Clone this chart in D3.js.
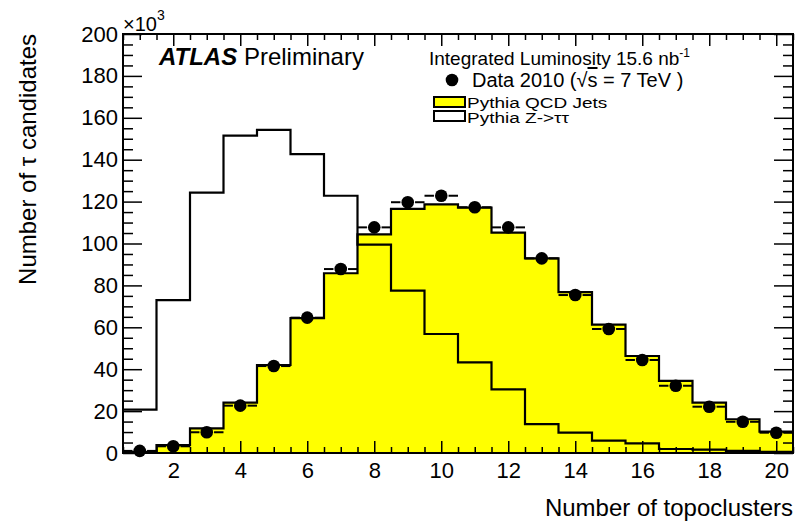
<!DOCTYPE html>
<html>
<head>
<meta charset="utf-8">
<script src="https://cdn.jsdelivr.net/npm/d3@7"></script>
<style>
  body { margin: 0; background: #fff; }
  svg text { font-family: "Liberation Sans", Arial, Helvetica, sans-serif; fill: #000; }
</style>
</head>
<body>
<div id="chart"></div>
<script>
// number of topoclusters (bin centres)
const bins = [1, 2, 3, 4, 5, 6, 7, 8, 9, 10, 11, 12, 13, 14, 15, 16, 17, 18, 19, 20];
// values in units of 10^3
const qcdJets = [0.5, 3.8, 11.8, 24.0, 42.0, 64.4, 85.8, 104.4, 116.5, 118.7, 117.1, 105.2, 92.9, 76.8, 61.3, 46.3, 34.4, 24.0, 16.1, 10.2];
const zTauTau = [20.7, 73.0, 124.3, 151.5, 154.2, 142.7, 122.8, 99.5, 77.5, 56.8, 43.3, 30.4, 13.8, 9.7, 5.9, 4.6, 1.9, 1.6, 1.0, 0.5];
const data2010 = [1.0, 3.2, 9.9, 22.6, 41.5, 64.6, 87.8, 107.7, 119.7, 122.8, 117.3, 107.7, 92.9, 75.4, 59.2, 44.4, 32.1, 22.1, 14.9, 9.7];

const xMajor = [2, 4, 6, 8, 10, 12, 14, 16, 18, 20];
const yMajor = [0, 20, 40, 60, 80, 100, 120, 140, 160, 180, 200];

const width = 804, height = 526;
const frame = {left: 123, right: 793, top: 34, bottom: 453};

const svg = d3.select('#chart').append('svg')
    .attr('width', width)
    .attr('height', height);

const x = d3.scaleLinear().domain([0.5, 20.5]).range([frame.left, frame.right]);
const y = d3.scaleLinear().domain([0, 200]).range([frame.bottom, frame.top]);

// step points: left edge of every bin, plus the right edge of the last one
function stepPoints(values) {
    const pts = bins.map((b, i) => [b - 0.5, values[i]]);
    pts.push([bins[bins.length - 1] + 0.5, values[values.length - 1]]);
    return pts;
}

const line = d3.line().x(d => x(d[0])).y(d => y(d[1])).curve(d3.curveStepAfter);
const area = d3.area().x(d => x(d[0])).y0(y(0)).y1(d => y(d[1])).curve(d3.curveStepAfter);

// QCD jets, filled
svg.append('path')
    .attr('d', area(stepPoints(qcdJets)))
    .attr('fill', '#ffff00');
svg.append('path')
    .attr('d', line(stepPoints(qcdJets)))
    .attr('fill', 'none')
    .attr('stroke', '#000')
    .attr('stroke-width', 2.2);

// Z->tautau, open
svg.append('path')
    .attr('d', line(stepPoints(zTauTau)))
    .attr('fill', 'none')
    .attr('stroke', '#000')
    .attr('stroke-width', 2.2);

// data points with horizontal bin-width bars
const r = 6.3;
const pts = svg.append('g');
bins.forEach((b, i) => {
    const cx = x(b), cy = y(data2010[i]);
    pts.append('line')
        .attr('x1', x(b - 0.5)).attr('x2', cx - r - 1)
        .attr('y1', cy).attr('y2', cy)
        .attr('stroke', '#000').attr('stroke-width', 2);
    pts.append('line')
        .attr('x1', cx + r + 1).attr('x2', x(b + 0.5))
        .attr('y1', cy).attr('y2', cy)
        .attr('stroke', '#000').attr('stroke-width', 2);
    pts.append('circle')
        .attr('cx', cx).attr('cy', cy).attr('r', r)
        .attr('fill', '#000');
});

// axes (ROOT style ticks inside the frame, on all four sides)
const xMinor = d3.range(0.5, 20.51, 0.5).filter(v => xMajor.indexOf(v) < 0);
const yMinor = d3.range(0, 200.1, 5).filter(v => yMajor.indexOf(v) < 0);

function styleAxis(g) {
    g.select('.domain').remove();
    g.selectAll('line').attr('stroke', '#000').attr('stroke-width', 1.5);
}

svg.append('g')
    .attr('transform', `translate(0,${frame.bottom})`)
    .call(d3.axisBottom(x).tickValues(xMajor).tickSize(-12).tickPadding(9).tickFormat(d3.format('d')))
    .call(styleAxis)
    .call(g => g.selectAll('text').attr('font-size', 22).style('font-family', '"Liberation Sans", Arial, sans-serif'));
svg.append('g')
    .attr('transform', `translate(0,${frame.bottom})`)
    .call(d3.axisBottom(x).tickValues(xMinor).tickSize(-6).tickFormat(''))
    .call(styleAxis);
svg.append('g')
    .attr('transform', `translate(0,${frame.top})`)
    .call(d3.axisTop(x).tickValues(xMajor).tickSize(-12).tickFormat(''))
    .call(styleAxis);
svg.append('g')
    .attr('transform', `translate(0,${frame.top})`)
    .call(d3.axisTop(x).tickValues(xMinor).tickSize(-6).tickFormat(''))
    .call(styleAxis);

svg.append('g')
    .attr('transform', `translate(${frame.left},0)`)
    .call(d3.axisLeft(y).tickValues(yMajor).tickSize(-19).tickPadding(5).tickFormat(d3.format('d')))
    .call(styleAxis)
    .call(g => g.selectAll('text').attr('font-size', 22).style('font-family', '"Liberation Sans", Arial, sans-serif'));
svg.append('g')
    .attr('transform', `translate(${frame.left},0)`)
    .call(d3.axisLeft(y).tickValues(yMinor).tickSize(-10).tickFormat(''))
    .call(styleAxis);
svg.append('g')
    .attr('transform', `translate(${frame.right},0)`)
    .call(d3.axisRight(y).tickValues(yMajor).tickSize(-19).tickFormat(''))
    .call(styleAxis);
svg.append('g')
    .attr('transform', `translate(${frame.right},0)`)
    .call(d3.axisRight(y).tickValues(yMinor).tickSize(-10).tickFormat(''))
    .call(styleAxis);

// frame
svg.append('rect')
    .attr('x', frame.left).attr('y', frame.top)
    .attr('width', frame.right - frame.left).attr('height', frame.bottom - frame.top)
    .attr('fill', 'none').attr('stroke', '#000').attr('stroke-width', 2);

// x10^3 multiplier
const mult = svg.append('text').attr('x', frame.left).attr('y', 31).attr('font-size', 20);
mult.append('tspan').text('×10');
mult.append('tspan').attr('dy', -11).attr('font-size', 14).text('3');

// axis titles
svg.append('text')
    .attr('x', frame.right).attr('y', 516)
    .attr('text-anchor', 'end')
    .attr('font-size', 24)
    .text('Number of topoclusters');
svg.append('text')
    .attr('transform', `translate(36,${frame.top}) rotate(-90)`)
    .attr('text-anchor', 'end')
    .attr('font-size', 24)
    .text('Number of τ candidates');

// ATLAS label
const atlas = svg.append('text').attr('x', 159).attr('y', 65).attr('font-size', 24);
atlas.append('tspan').attr('font-weight', 'bold').attr('font-style', 'italic').text('ATLAS');
atlas.append('tspan').text(' Preliminary');

// legend
const lumi = svg.append('text').attr('x', 429).attr('y', 65).attr('font-size', 19);
lumi.append('tspan').text('Integrated Luminosity 15.6 nb');
lumi.append('tspan').attr('dy', -8).attr('font-size', 12).text('-1');

svg.append('circle').attr('cx', 452).attr('cy', 80).attr('r', r).attr('fill', '#000');
const dataLabel = svg.append('text').attr('x', 472).attr('y', 87).attr('font-size', 20);
dataLabel.append('tspan').text('Data 2010 (√');
dataLabel.append('tspan').attr('text-decoration', 'overline').text('s');
dataLabel.append('tspan').text(' = 7 TeV )');

// the two MC entries sit very close together, so their text is squeezed vertically
svg.append('rect').attr('x', 434).attr('y', 97).attr('width', 31).attr('height', 10)
    .attr('fill', '#ffff00').attr('stroke', '#000').attr('stroke-width', 2);
svg.append('text').attr('transform', 'translate(467,107.5) scale(1,0.74)')
    .attr('font-size', 19).text('Pythia QCD Jets');

svg.append('rect').attr('x', 434).attr('y', 111).attr('width', 31).attr('height', 10)
    .attr('fill', '#fff').attr('stroke', '#000').attr('stroke-width', 2);
svg.append('text').attr('transform', 'translate(467,122.5) scale(1,0.74)')
    .attr('font-size', 19).text('Pythia Z->ττ');
</script>
</body>
</html>
